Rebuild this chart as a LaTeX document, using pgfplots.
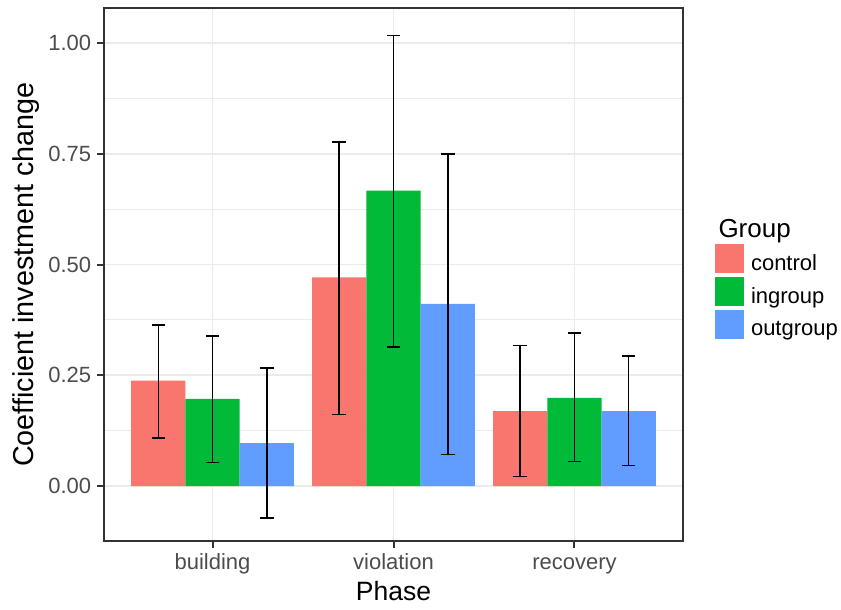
\documentclass[border=0pt]{standalone}
\usepackage{fontspec}
\setmainfont{Liberation Sans}
\usepackage{pgfplots}
\pgfplotsset{compat=1.18}
\usepackage{pgfplotstable}
\definecolor{cctrl}{HTML}{F8766D}
\definecolor{cin}{HTML}{00BA38}
\definecolor{cout}{HTML}{619CFF}
\definecolor{grey92}{gray}{0.92}
\definecolor{grey30}{gray}{0.30}
\definecolor{grey20}{gray}{0.20}

\pgfplotstableread{
x y ep em
0.7 0.238 0.126 0.129
1.7 0.471 0.306 0.310
2.7 0.169 0.148 0.147
}\ctrl
\pgfplotstableread{
x y ep em
1.0 0.197 0.142 0.144
2.0 0.667 0.350 0.353
3.0 0.199 0.146 0.143
}\ingrp
\pgfplotstableread{
x y ep em
1.3 0.097 0.170 0.169
2.3 0.411 0.338 0.340
3.3 0.169 0.124 0.123
}\outgrp

\begin{document}
\begin{tikzpicture}
\path (-41.6pt,-24.4pt) rectangle (294.8pt,216.4pt);
\begin{axis}[
  at={(0,0)}, anchor=south west,
  scale only axis, width=231.6pt, height=213.2pt,
  xmin=0.4, xmax=3.6, ymin=-0.124, ymax=1.079,
  xtick={1,2,3}, xticklabels={building,violation,recovery},
  ytick={0,0.25,0.5,0.75,1},
  minor ytick={0.125,0.375,0.625,0.875},
  yticklabel style={/pgf/number format/.cd, fixed, fixed zerofill, precision=2},
  xticklabel style={text height=6.4pt, text depth=1.9pt},
  /pgf/number format/assume math mode=true,
  grid=both,
  major grid style={grey92, line width=0.7pt},
  minor grid style={grey92, line width=0.4pt},
  axis line style={grey20, line width=0.8pt},
  tick style={grey20, line width=0.8pt},
  tick align=outside, tick pos=left,
  major tick length=2.75pt, minor tick length=0pt,
  ticklabel style={font=\fontsize{8.8}{10}\selectfont, text=grey30, inner sep=2.2pt},
  xlabel={Phase}, ylabel={Coefficient investment change},
  every axis y label/.style={at={(axis description cs:-0.1226,0.5)}, rotate=90, anchor=base, font=\fontsize{11.5}{13}\selectfont},
  every axis x label/.style={at={(axis description cs:0.5,-0.1116)}, anchor=base, font=\fontsize{10.6}{12}\selectfont},
  legend style={at={(axis description cs:1.0553,0.5572)}, anchor=north west,
    draw=none, fill=none, inner sep=0pt, outer sep=0pt, row sep=1.2pt,
    font=\fontsize{8.8}{10}\selectfont,
    nodes={inner sep=0pt, outer sep=0pt},
    /tikz/every odd column/.append style={column sep=2.8pt}},
  legend cell align=left,
  legend image code/.code={\fill[#1, draw=none] (0pt,-3.5pt) rectangle (11.6pt,8.1pt);},
]
\addplot[ybar, bar width=0.3, bar shift=0pt, fill=cctrl, draw=none,
  error bars/.cd, y dir=both, y explicit,
  error bar style={black, line width=0.6pt},
  error mark options={rotate=90, black, mark size=2.7pt, line width=0.6pt}]
  table[x=x, y=y, y error plus=ep, y error minus=em]{\ctrl};
\addlegendentry{control}
\addplot[ybar, bar width=0.3, bar shift=0pt, fill=cin, draw=none,
  error bars/.cd, y dir=both, y explicit,
  error bar style={black, line width=0.6pt},
  error mark options={rotate=90, black, mark size=2.7pt, line width=0.6pt}]
  table[x=x, y=y, y error plus=ep, y error minus=em]{\ingrp};
\addlegendentry{ingroup}
\addplot[ybar, bar width=0.3, bar shift=0pt, fill=cout, draw=none,
  error bars/.cd, y dir=both, y explicit,
  error bar style={black, line width=0.6pt},
  error mark options={rotate=90, black, mark size=2.7pt, line width=0.6pt}]
  table[x=x, y=y, y error plus=ep, y error minus=em]{\outgrp};
\addlegendentry{outgroup}
\end{axis}
\node[anchor=base west, font=\fontsize{10.4}{12}\selectfont, inner sep=0pt] at (245.6pt,121.6pt) {Group};
\end{tikzpicture}
\end{document}
